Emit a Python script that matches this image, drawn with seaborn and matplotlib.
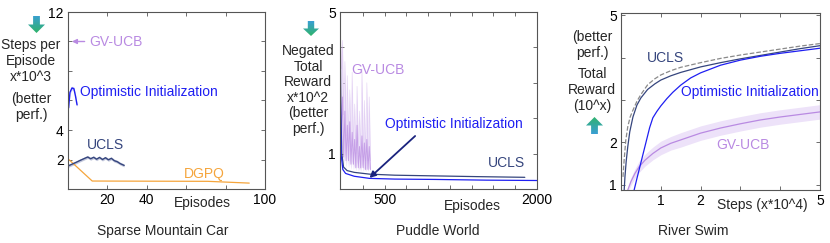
import numpy as np
import matplotlib
matplotlib.use("Agg")
import matplotlib.pyplot as plt
import seaborn as sns
from matplotlib.colors import LinearSegmentedColormap
from matplotlib.patches import Polygon

sns.set_theme(style="ticks")
plt.rcParams['font.family'] = ['Liberation Sans', 'DejaVu Sans']
plt.rcParams['font.size'] = 10

# colours
C_GV = '#b98ae2'
C_GV_FILL = '#ede2f9'
C_OI = '#1f1ff2'
C_UCLS = '#35457d'
C_DGPQ = '#f5a53c'
C_DASH = '#8a8a8a'

# ---- Sparse Mountain Car (steps per episode, x10^3) ----
mc_gv_ep = [1]
mc_gv = [10.0]
mc_oi_ep = [0.3, 1.0, 2.0, 3.0, 3.8, 4.6]
mc_oi = [5.5, 6.55, 6.85, 6.8, 6.3, 5.7]
mc_ucls_ep = [0, 2, 4, 6, 8, 10, 11.5, 13, 14.5, 16, 17.5, 19, 20.5, 22, 23.5, 25, 26.5, 28.5]
mc_ucls = [1.56, 1.68, 1.80, 1.93, 2.05, 2.17, 2.05, 2.15, 2.02, 2.14, 2.00, 2.12, 1.98, 2.08,
           1.92, 1.85, 1.72, 1.60]
mc_dgpq_ep = [0, 12.3, 40, 71, 92]
mc_dgpq = [2.05, 0.54, 0.53, 0.52, 0.40]

# ---- Puddle World (negated total reward, x10^2) ----
pw_gv_ep = [60, 72, 84, 96, 108, 120, 132, 144, 156, 168, 180, 192, 204, 216, 228, 240,
            252, 264, 276, 288, 300, 312, 324, 336, 348, 360]
pw_gv_hi = [5.0, 3.4, 4.2, 2.1, 3.6, 1.5, 3.2, 1.3, 2.8, 1.2, 3.3, 1.1, 2.4, 1.0, 2.9, 1.0,
            2.2, 0.9, 3.4, 0.9, 2.5, 0.8, 3.0, 0.8, 2.6, 0.8]
pw_gv = [4.0, 1.6, 2.6, 0.9, 2.2, 0.8, 1.8, 0.8, 1.9, 0.7, 1.6, 0.7, 1.4, 0.6, 1.8, 0.6,
         1.2, 0.6, 1.5, 0.6, 1.3, 0.55, 1.4, 0.55, 1.2, 0.55]
pw_gv_lo = [2.5, 0.9, 1.2, 0.7, 1.0, 0.6, 0.9, 0.6, 0.8, 0.55, 0.8, 0.55, 0.7, 0.5, 0.8, 0.5,
            0.6, 0.5, 0.7, 0.5, 0.6, 0.5, 0.6, 0.5, 0.6, 0.5]
pw_ucls_ep = [60, 68, 78, 95, 130, 200, 350, 600, 1000, 1400, 1880]
pw_ucls = [5.0, 2.2, 1.0, 0.62, 0.52, 0.47, 0.42, 0.39, 0.37, 0.35, 0.33]
pw_oi_ep = [60, 64, 72, 88, 115, 200, 350, 600, 1000, 1500, 2000]
pw_oi = [5.0, 2.5, 0.95, 0.55, 0.44, 0.36, 0.30, 0.28, 0.27, 0.25, 0.24]

# ---- River Swim (total reward, 10^x) ----
rs_dash_x = [0.05, 0.08, 0.12, 0.17, 0.23, 0.3, 0.4, 0.5, 0.67, 0.85, 1.0, 1.25, 1.5, 2.0,
             2.5, 3.0, 3.5, 4.0, 4.5, 5.0]
rs_dash = [1.19, 1.6, 2.05, 2.37, 2.6, 2.76, 2.97, 3.13, 3.36, 3.5, 3.59, 3.69, 3.77, 3.88,
           3.98, 4.06, 4.13, 4.2, 4.27, 4.33]
rs_ucls_x = [0.08, 0.1, 0.13, 0.17, 0.22, 0.3, 0.4, 0.5, 0.67, 0.85, 1.0, 1.25, 1.5, 2.0,
             2.5, 3.0, 3.5, 4.0, 4.5, 5.0]
rs_ucls = [0.88, 1.2, 1.55, 1.9, 2.25, 2.6, 2.88, 3.05, 3.25, 3.38, 3.47, 3.57, 3.65, 3.78,
           3.88, 3.97, 4.05, 4.13, 4.21, 4.28]
rs_oi_x = [0.33, 0.4, 0.48, 0.56, 0.64, 0.72, 0.8, 0.9, 1.0, 1.15, 1.3, 1.5, 1.75, 2.0,
           2.5, 3.0, 3.5, 4.0, 4.5, 5.0]
rs_oi = [0.88, 1.15, 1.45, 1.75, 2.05, 2.35, 2.58, 2.73, 2.86, 3.03, 3.18, 3.35, 3.52, 3.64,
         3.82, 3.94, 4.03, 4.1, 4.16, 4.22]
rs_gv_x = [0.17, 0.25, 0.35, 0.45, 0.6, 0.8, 1.0, 1.25, 1.5, 2.0, 2.5, 3.0, 3.5, 4.0, 4.5, 5.0]
rs_gv = [0.88, 1.08, 1.27, 1.42, 1.58, 1.74, 1.87, 1.98, 2.06, 2.22, 2.34, 2.44, 2.53, 2.6,
         2.66, 2.72]
rs_gv_sd = [0.06, 0.09, 0.11, 0.13, 0.14, 0.15, 0.16, 0.16, 0.17, 0.17, 0.17, 0.17, 0.17,
            0.17, 0.17, 0.17]

W, H = 830, 243
fig = plt.figure(figsize=(W / 100, H / 100), dpi=100)


def px_axes(left, top, right, bottom):
    return fig.add_axes([left / W, 1 - bottom / H, (right - left) / W, (bottom - top) / H])


def style(ax):
    for s in ax.spines.values():
        s.set_color('#555555')
        s.set_linewidth(0.8)
    ax.tick_params(direction='in', length=3, width=0.6, top=True, right=True,
                   labelsize=10, pad=3, colors='#555555', labelcolor='black')


def arrow(left, top, w, h, up):
    a = px_axes(left, top, left + w, top + h)
    a.axis('off')
    a.set_xlim(0, 1)
    a.set_ylim(0, 1)
    cmap = LinearSegmentedColormap.from_list('g', ['#2fb36a', '#3a9fd4'])
    grad = np.linspace(0, 1, 64).reshape(-1, 1)
    if up:
        grad = grad[::-1]
        pts = [(0.3, 0), (0.7, 0), (0.7, 0.5), (1, 0.5), (0.5, 1), (0, 0.5), (0.3, 0.5)]
    else:
        pts = [(0.3, 1), (0.7, 1), (0.7, 0.5), (1, 0.5), (0.5, 0), (0, 0.5), (0.3, 0.5)]
    im = a.imshow(grad, extent=[0, 1, 0, 1], origin='lower', aspect='auto', cmap=cmap)
    poly = Polygon(pts, closed=True, transform=a.transData, fc='none', ec='none')
    a.add_patch(poly)
    im.set_clip_path(poly)


# ================= panel 1 =================
ax1 = px_axes(68, 12, 265, 189)
sns.lineplot(x=mc_dgpq_ep, y=mc_dgpq, ax=ax1, color=C_DGPQ, lw=0.9)
ax1.fill_between(mc_ucls_ep, np.array(mc_ucls) - 0.1, np.array(mc_ucls) + 0.1,
                 color='#c3c8dc', lw=0)
sns.lineplot(x=mc_ucls_ep, y=mc_ucls, ax=ax1, color=C_UCLS, lw=1.0)
ax1.fill_between(mc_oi_ep, np.array(mc_oi) - 0.12, np.array(mc_oi) + 0.12,
                 color='#cfcff8', lw=0)
sns.lineplot(x=mc_oi_ep, y=mc_oi, ax=ax1, color=C_OI, lw=1.0)
ax1.annotate('GV-UCB', xy=(mc_gv_ep[0] + 1.0, mc_gv[0]), xytext=(10.8, mc_gv[0]),
             color=C_GV, va='center', ha='left', fontsize=10,
             arrowprops=dict(arrowstyle='-|>', color=C_GV, lw=1.0, mutation_scale=7,
                             shrinkA=1, shrinkB=0))
ax1.text(6.2, 6.58, 'Optimistic Initialization', color=C_OI, va='center', fontsize=10)
ax1.text(9.7, 2.98, 'UCLS', color=C_UCLS, va='center', fontsize=10)
ax1.text(59, 1.02, 'DGPQ', color=C_DGPQ, va='center', fontsize=10)
ax1.set_xlim(0, 100)
ax1.set_ylim(0, 12)
ax1.set_xticks([0, 20, 40, 60, 80, 100])
ax1.set_xticklabels(['', '20', '40', '', '', '100'])
ax1.set_yticks([0, 2, 4, 6, 8, 10, 12])
ax1.set_yticklabels(['', '2', '4', '', '', '', '12'])
style(ax1)
fig.text(202 / W, 1 - 203 / H, 'Episodes', ha='center', va='center', fontsize=10)
fig.text(163 / W, 1 - 231 / H, 'Sparse Mountain Car', ha='center', va='center', fontsize=10)
fig.text(31 / W, 1 - 61 / H, 'Steps per\nEpisode\nx*10^3', ha='center', va='center',
         fontsize=10, linespacing=1.15)
fig.text(31 / W, 1 - 107 / H, '(better\nperf.)', ha='center', va='center',
         fontsize=10, linespacing=1.15)
arrow(28, 16, 17, 17, up=False)

# ================= panel 2 =================
ax2 = px_axes(340, 12, 537, 189)
ax2.fill_between(pw_gv_ep, pw_gv_lo, pw_gv_hi, color=C_GV_FILL, lw=0)
sns.lineplot(x=pw_gv_ep, y=pw_gv_hi, ax=ax2, color=C_GV, lw=0.5, alpha=0.3)
sns.lineplot(x=pw_gv_ep, y=pw_gv, ax=ax2, color=C_GV, lw=0.7, alpha=0.75)
sns.lineplot(x=pw_ucls_ep, y=pw_ucls, ax=ax2, color=C_UCLS, lw=0.9)
sns.lineplot(x=pw_oi_ep, y=pw_oi, ax=ax2, color=C_OI, lw=0.9)
ax2.text(170, 3.37, 'GV-UCB', color=C_GV, va='center', fontsize=10)
ax2.annotate('', xy=(330, 0.26), xytext=(820, 1.55),
             arrowprops=dict(arrowstyle='-|>', color='#1a237e', lw=1.3, mutation_scale=9))
ax2.text(504, 1.83, 'Optimistic Initialization', color=C_OI, va='center', fontsize=10)
ax2.text(1521, 0.73, 'UCLS', color=C_UCLS, va='center', fontsize=10)
ax2.set_xlim(60, 2000)
ax2.set_ylim(0, 5)
ax2.set_xticks([286, 500, 714, 929, 1143, 1357, 1571, 1786, 2000])
ax2.set_xticklabels(['', '500', '', '', '', '', '', '', '2000'])
ax2.set_yticks([0, 1, 2, 3, 4, 5])
ax2.set_yticklabels(['', '1', '', '', '', '5'])
style(ax2)
fig.text(472 / W, 1 - 206 / H, 'Episodes', ha='center', va='center', fontsize=10)
fig.text(438 / W, 1 - 231 / H, 'Puddle World', ha='center', va='center', fontsize=10)
fig.text(308 / W, 1 - 90 / H, 'Negated\nTotal\nReward\nx*10^2\n(better\nperf.)',
         ha='center', va='center', fontsize=10, linespacing=1.15)
arrow(303, 21, 16, 15, up=False)

# ================= panel 3 =================
ax3 = px_axes(621, 13, 820, 190)
ax3.fill_between(rs_gv_x, np.array(rs_gv) - np.array(rs_gv_sd),
                 np.array(rs_gv) + np.array(rs_gv_sd), color=C_GV_FILL, lw=0)
sns.lineplot(x=rs_gv_x, y=rs_gv, ax=ax3, color=C_GV, lw=0.9)
sns.lineplot(x=rs_dash_x, y=rs_dash, ax=ax3, color=C_DASH, lw=0.9, linestyle='--')
sns.lineplot(x=rs_ucls_x, y=rs_ucls, ax=ax3, color=C_UCLS, lw=0.9)
sns.lineplot(x=rs_oi_x, y=rs_oi, ax=ax3, color=C_OI, lw=0.9)
ax3.text(0.65, 3.99, 'UCLS', color=C_UCLS, va='center', fontsize=10)
ax3.text(1.5, 3.19, 'Optimistic Initialization', color=C_OI, va='center', fontsize=10)
ax3.text(2.4, 1.94, 'GV-UCB', color=C_GV, va='center', fontsize=10)
ax3.set_xlim(0, 5)
ax3.set_ylim(0.88, 5.05)
ax3.set_xticks([1, 2, 3, 4, 5])
ax3.set_xticklabels(['1', '2', '', '', '5'])
ax3.set_yticks([1, 2, 3, 4, 5])
ax3.set_yticklabels(['1', '2', '', '', '5'])
style(ax3)
fig.text(762 / W, 1 - 205 / H, 'Steps (x*10^4)', ha='center', va='center', fontsize=10)
fig.text(693 / W, 1 - 231 / H, 'River Swim', ha='center', va='center', fontsize=10)
fig.text(592 / W, 1 - 45 / H, '(better\nperf.)', ha='center', va='center',
         fontsize=10, linespacing=1.15)
fig.text(592 / W, 1 - 90 / H, 'Total\nReward\n(10^x)', ha='center', va='center',
         fontsize=10, linespacing=1.15)
arrow(586, 117, 17, 17, up=True)

for a in (ax1, ax2, ax3):
    a.set_xlabel('')
    a.set_ylabel('')

fig.savefig('out.png', dpi=100)
